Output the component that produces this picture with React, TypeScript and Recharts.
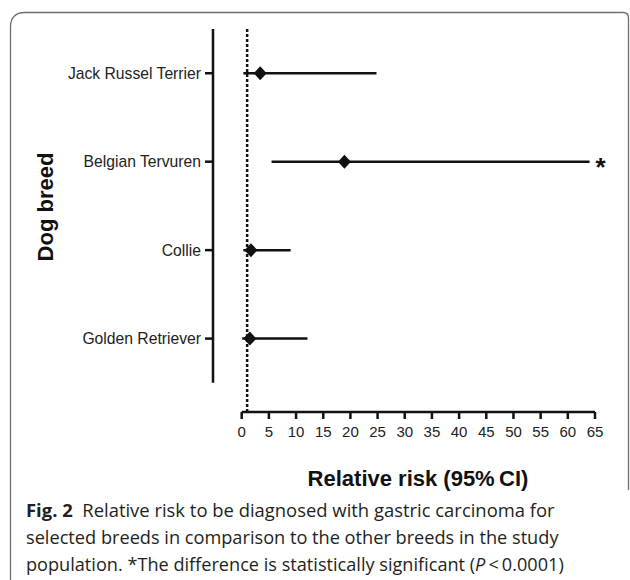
import React, { useLayoutEffect, useRef, useState } from 'react'
import {
  ComposedChart,
  Scatter,
  ErrorBar,
  XAxis,
  YAxis,
  ReferenceLine,
  ReferenceDot,
} from 'recharts'

// relative risk with 95% CI per breed
const BREEDS = ['Jack Russel Terrier', 'Belgian Tervuren', 'Collie', 'Golden Retriever']
const RR = [3.4, 18.9, 1.7, 1.5]
const CI_LOW = [0.3, 5.5, 0.3, 0.1]
const CI_HIGH = [24.8, 64.0, 9.0, 12.1]
const SIGNIFICANT = [false, true, false, false]
const X_TICKS = [0, 5, 10, 15, 20, 25, 30, 35, 40, 45, 50, 55, 60, 65]

// axis extents: the y axis sits a little left of 0, the x axis a little below the last row
const X_MIN = -5.28
const X_MAX = 65
const Y_MIN = 0.17
const Y_MAX = 4.5

const data = BREEDS.map((breed, i) => ({
  breed,
  row: BREEDS.length - i,
  rr: RR[i],
  err: [RR[i] - CI_LOW[i], CI_HIGH[i] - RR[i]],
}))

const INK = '#111'
const SANS = 'Liberation Sans, Arial, sans-serif'

const Diamond = (props: any) => {
  const { cx, cy } = props
  if (cx == null || cy == null) return null
  return (
    <polygon
      points={`${cx},${cy - 7} ${cx + 6.5},${cy} ${cx},${cy + 7} ${cx - 6.5},${cy}`}
      fill={INK}
    />
  )
}

// caption lines squeezed to the widths of the original (narrow serif-less face)
const CAPTION_WIDTHS = [529, 533, 538]
const CAPTION_BASELINES = [37, 64, 91]

function Caption() {
  const refs = [useRef<SVGTextElement>(null), useRef<SVGTextElement>(null), useRef<SVGTextElement>(null)]
  const [scales, setScales] = useState([1, 1, 1])
  useLayoutEffect(() => {
    setScales(
      refs.map((r, i) => {
        const w = r.current ? r.current.getComputedTextLength() : 0
        return w > 0 ? CAPTION_WIDTHS[i] / w : 1
      })
    )
  }, [])
  const tf = (i: number) => `translate(26 ${CAPTION_BASELINES[i]}) scale(${scales[i]} 1)`
  return (
    <svg width={630} height={100} style={{ position: 'absolute', left: 0, top: 480 }}>
      <g fill="#231f20" fontFamily="Open Sans, Noto Sans, sans-serif" fontSize={18.5}>
        <text ref={refs[0]} transform={tf(0)} style={{ whiteSpace: 'pre' }}>
          <tspan fontWeight="bold">Fig. 2</tspan>
          {'  Relative risk to be diagnosed with gastric carcinoma for'}
        </text>
        <text ref={refs[1]} transform={tf(1)}>
          selected breeds in comparison to the other breeds in the study
        </text>
        <text ref={refs[2]} transform={tf(2)}>
          {'population. *The difference is statistically significant ('}
          <tspan fontStyle="italic">P</tspan>
          {'\u2009<\u20090.0001)'}
        </text>
      </g>
    </svg>
  )
}

export default function App() {
  return (
    <div style={{ position: 'absolute', left: 0, top: 0, width: 630, height: 580, background: '#fff' }}>
      <svg width={630} height={580} style={{ position: 'absolute', left: 0, top: 0 }}>
        <path
          d="M10.5,580 L10.5,27 Q10.5,12.5 25,12.5 L623,12.5 Q628.5,12.5 628.5,18 L628.5,490"
          fill="none"
          stroke="#6e6e6e"
          strokeWidth={1.3}
        />
      </svg>
      <div style={{ position: 'absolute', left: 0, top: 0 }}>
        <ComposedChart
          width={630}
          height={500}
          data={data}
          margin={{ top: 29, right: 35, bottom: 58, left: 13 }}
        >
          <XAxis
            type="number"
            dataKey="rr"
            domain={[X_MIN, X_MAX]}
            ticks={X_TICKS}
            axisLine={false}
            tickLine={{ stroke: INK, strokeWidth: 2.5 }}
            tickSize={7}
            tickMargin={7}
            height={30}
            tick={{ fill: '#222', fontSize: 15, fontFamily: SANS }}
            label={{
              content: () => (
                <text x={418} y={486} textAnchor="middle" fill="#111" fontSize={22} fontWeight="bold" fontFamily={SANS}>
                  {'Relative risk (95%\u2009CI)'}
                </text>
              ),
            }}
          />
          <YAxis
            type="number"
            dataKey="row"
            domain={[Y_MIN, Y_MAX]}
            ticks={[1, 2, 3, 4]}
            tickFormatter={(v: number) => BREEDS[BREEDS.length - v]}
            axisLine={false}
            tickLine={{ stroke: INK, strokeWidth: 2.5 }}
            tickSize={8}
            tickMargin={4}
            width={200}
            tick={{ fill: '#222', fontSize: 15.7, fontFamily: SANS }}
            label={{
              content: () => (
                <text
                  x={45}
                  y={207}
                  transform="rotate(-90 45 207)"
                  textAnchor="middle"
                  dominantBaseline="central"
                  fill="#111"
                  fontSize={22}
                  fontWeight="bold"
                  fontFamily={SANS}
                >
                  Dog breed
                </text>
              ),
            }}
          />
          {/* axis lines, shorter than the plot frame as in the original */}
          <ReferenceLine
            segment={[
              { x: X_MIN, y: 0.5 },
              { x: X_MIN, y: Y_MAX },
            ]}
            stroke={INK}
            strokeWidth={2.5}
          />
          <ReferenceLine
            segment={[
              { x: 0, y: Y_MIN },
              { x: X_MAX, y: Y_MIN },
            ]}
            stroke={INK}
            strokeWidth={2.5}
          />
          <ReferenceLine x={1} stroke={INK} strokeWidth={2.5} strokeDasharray="3 2" />
          <Scatter dataKey="row" shape={Diamond} isAnimationActive={false}>
            <ErrorBar dataKey="err" direction="x" width={0} stroke={INK} strokeWidth={2.5} />
          </Scatter>
          {data.map((d, i) =>
            SIGNIFICANT[i] ? (
              <ReferenceDot
                key={d.breed}
                x={CI_HIGH[i]}
                y={d.row}
                r={0}
                shape={(p: any) => (
                  <text
                    x={p.cx + 11}
                    y={p.cy + 14}
                    textAnchor="middle"
                    fill={INK}
                    fontSize={26}
                    fontWeight="bold"
                    fontFamily={SANS}
                  >
                    *
                  </text>
                )}
              />
            ) : null
          )}
        </ComposedChart>
      </div>
      <Caption />
    </div>
  )
}
